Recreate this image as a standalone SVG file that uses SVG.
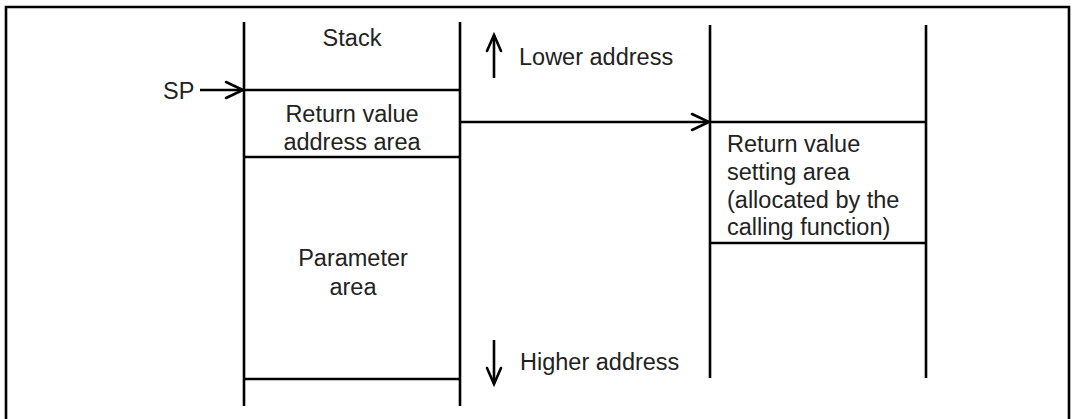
<svg xmlns="http://www.w3.org/2000/svg" width="1076" height="419" viewBox="0 0 1076 419">
<style>
.ln{stroke:#000;stroke-width:2.6;fill:none}
.ah{stroke:#000;stroke-width:2.6;fill:none;stroke-linecap:round;stroke-linejoin:miter}
text{font-family:"Liberation Sans",Arial,sans-serif;font-size:23.5px;fill:#222}
.c{text-anchor:middle}
</style>
<rect width="1076" height="419" fill="#fff"/>
<g id="frame"><path class="ln" d="M6,425 V7 H1069 V425"/></g>
<g id="stack">
<path class="ln" d="M244,22 V406 M460,22 V406"/>
<text class="c" x="352" y="46">Stack</text>
</g>
<g id="return-value-address-area">
<path class="ln" d="M244,90 H460 M244,157 H460"/>
<text class="c" x="352" y="122">Return value</text>
<text class="c" x="352" y="150">address area</text>
</g>
<g id="parameter-area">
<path class="ln" d="M244,379 H460"/>
<text class="c" x="353" y="266">Parameter</text>
<text class="c" x="353" y="295">area</text>
</g>
<g id="caller-area">
<path class="ln" d="M710,25 V378 M926,25 V378"/>
</g>
<g id="return-value-setting-area">
<path class="ln" d="M710,122 H926 M710,243 H926"/>
<text x="727" y="152">Return value</text>
<text x="727" y="180">setting area</text>
<text x="727" y="207.5">(allocated by the</text>
<text x="727" y="235">calling function)</text>
</g>
<g id="labels">
<text x="163" y="99">SP</text>
<text x="519" y="65">Lower address</text>
<text x="520" y="370">Higher address</text>
</g>
<g id="connectors">
<path class="ln" d="M200,90 H243"/>
<path class="ah" d="M226,82 L243,90 L226,98"/>
<path class="ln" d="M461,122 H709"/>
<path class="ah" d="M692,114 L709,122 L692,130"/>
<path class="ln" d="M494,78 V35"/>
<path class="ah" d="M487,51 L494,35 L501,51"/>
<path class="ln" d="M494,340 V384"/>
<path class="ah" d="M487,368 L494,384 L501,368"/>
</g>
</svg>
